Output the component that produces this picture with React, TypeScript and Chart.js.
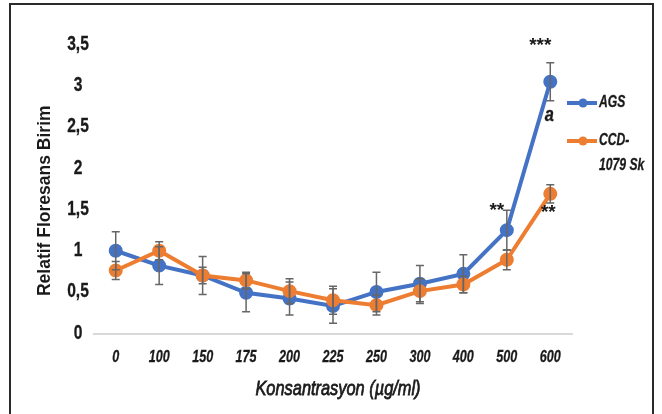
import React, { useEffect, useRef } from "react";
import { Chart, registerables } from "chart.js";

Chart.register(...registerables);

// ---- data ----
const categories = ["0", "100", "150", "175", "200", "225", "250", "300", "400", "500", "600"];
const agsValues = [1.01, 0.83, 0.71, 0.5, 0.43, 0.34, 0.51, 0.61, 0.73, 1.26, 3.06];
const agsErrors = [0.23, 0.23, 0.23, 0.23, 0.2, 0.21, 0.24, 0.22, 0.23, 0.24, 0.23];
const ccdValues = [0.77, 1.01, 0.71, 0.65, 0.52, 0.41, 0.35, 0.52, 0.6, 0.9, 1.7];
const ccdErrors = [0.11, 0.11, 0.1, 0.1, 0.15, 0.17, 0.12, 0.15, 0.1, 0.12, 0.11];
const seriesNames = [["AGS"], ["CCD-", "1079 Sk"]];
const yMin = 0;
const yMax = 3.5;
const yStep = 0.5;
const xTitle = "Konsantrasyon (µg/ml)";
const yTitle = "Relatif Floresans Birim";
// significance marks: series index, category index, text
const marks = [
  { series: 0, index: 10, text: "***", where: "aboveErr", dx: -10, dy: -17 },
  { series: 0, index: 10, text: "a", where: "belowErr", dx: -1, dy: 15 },
  { series: 0, index: 9, text: "**", where: "aboveErr", dx: -10, dy: 0 },
  { series: 1, index: 10, text: "**", where: "point", dx: -2, dy: 19 },
];

const BLUE = "#4472C4";
const ORANGE = "#ED7D31";
const TEXT = "#1a1a1a";
const SANS = "'Liberation Sans', Arial, 'DejaVu Sans', sans-serif";

function narrowText(ctx: any, text: string, x: number, y: number, font: string, align: string, sx: number, stroke = 0) {
  ctx.save();
  ctx.translate(x, y);
  ctx.scale(sx, 1);
  ctx.font = font;
  ctx.textAlign = align;
  ctx.textBaseline = "middle";
  ctx.fillStyle = TEXT;
  ctx.fillText(text, 0, 0);
  if (stroke > 0) {
    ctx.strokeStyle = TEXT;
    ctx.lineWidth = stroke;
    ctx.strokeText(text, 0, 0);
  }
  ctx.restore();
}

const axisTextPlugin = {
  id: "axisText",
  afterDraw(chart: any) {
    const ctx = chart.ctx;
    const xs = chart.scales.x;
    const ys = chart.scales.y;
    const area = chart.chartArea;
    // y ticks
    ys.ticks.forEach((t: any) => {
      const label = String(t.value).replace(".", ",");
      narrowText(ctx, label, area.left - 16, ys.getPixelForValue(t.value) - 1, "bold 20px " + SANS, "center", 0.78, 0.3);
    });
    // x ticks
    xs.ticks.forEach((t: any, i: number) => {
      const label = xs.getLabelForValue(t.value);
      narrowText(ctx, label, xs.getPixelForTick(i), area.bottom + 23, "italic bold 17px " + SANS, "center", 0.74, 0.3);
    });
    // x title
    narrowText(ctx, xTitle, (area.left + area.right) / 2 + 5, area.bottom + 55, "italic 21px " + SANS, "center", 0.78, 0.8);
    // y title
    ctx.save();
    ctx.translate(45, (area.top + area.bottom) / 2 + 11);
    ctx.rotate(-Math.PI / 2);
    ctx.font = "bold 17.5px " + SANS;
    ctx.textAlign = "center";
    ctx.textBaseline = "middle";
    ctx.fillStyle = TEXT;
    ctx.fillText(yTitle, 0, 0);
    ctx.restore();
  },
};

const errorBarPlugin = {
  id: "errorBars",
  afterDatasetsDraw(chart: any) {
    const ctx = chart.ctx;
    const y = chart.scales.y;
    const errs = [agsErrors, ccdErrors];
    ctx.save();
    ctx.strokeStyle = "#666666";
    ctx.lineWidth = 1.5;
    chart.data.datasets.forEach((ds: any, di: number) => {
      const meta = chart.getDatasetMeta(di);
      meta.data.forEach((pt: any, i: number) => {
        const v = ds.data[i];
        const e = errs[di][i];
        const x = pt.x;
        const yt = y.getPixelForValue(v + e);
        const yb = y.getPixelForValue(v - e);
        ctx.beginPath();
        ctx.moveTo(x, yt);
        ctx.lineTo(x, yb);
        ctx.moveTo(x - 4, yt);
        ctx.lineTo(x + 4, yt);
        ctx.moveTo(x - 4, yb);
        ctx.lineTo(x + 4, yb);
        ctx.stroke();
      });
    });
    ctx.restore();
  },
};

const marksPlugin = {
  id: "marks",
  afterDatasetsDraw(chart: any) {
    const ctx = chart.ctx;
    const y = chart.scales.y;
    const errs = [agsErrors, ccdErrors];
    marks.forEach((m) => {
      const pt = chart.getDatasetMeta(m.series).data[m.index];
      const v = chart.data.datasets[m.series].data[m.index];
      const e = errs[m.series][m.index];
      let py = pt.y;
      if (m.where === "aboveErr") py = y.getPixelForValue(v + e);
      if (m.where === "belowErr") py = y.getPixelForValue(v - e);
      if (m.text === "a") {
        narrowText(ctx, m.text, pt.x + m.dx, py + m.dy, "italic bold 20px " + SANS, "center", 0.82, 0.3);
      } else {
        narrowText(ctx, m.text, pt.x + m.dx, py + m.dy, "bold 19px " + SANS, "center", 1);
      }
    });
  },
};

const legendPlugin = {
  id: "customLegend",
  afterDraw(chart: any) {
    const ctx = chart.ctx;
    const x0 = chart.chartArea.right - 5;
    const rows = [103, 141];
    chart.data.datasets.forEach((ds: any, di: number) => {
      const yy = rows[di];
      ctx.save();
      ctx.strokeStyle = ds.borderColor;
      ctx.lineWidth = 4;
      ctx.beginPath();
      ctx.moveTo(x0, yy);
      ctx.lineTo(x0 + 30, yy);
      ctx.stroke();
      ctx.fillStyle = ds.borderColor;
      ctx.beginPath();
      ctx.arc(x0 + 16, yy, 4.5, 0, Math.PI * 2);
      ctx.fill();
      ctx.restore();
      seriesNames[di].forEach((line, li) => {
        narrowText(ctx, line, x0 + 32, yy + li * 25, "italic bold 16px " + SANS, "left", 0.76, 0.3);
      });
    });
  },
};

export default function App() {
  const ref = useRef<HTMLCanvasElement | null>(null);
  useEffect(() => {
    if (!ref.current) return;
    const chart = new Chart(ref.current, {
      type: "line",
      data: {
        labels: categories,
        datasets: [
          {
            label: seriesNames[0].join(" "),
            data: agsValues,
            borderColor: BLUE,
            backgroundColor: BLUE,
            borderWidth: 4,
            pointRadius: 5,
            pointBackgroundColor: BLUE,
            pointBorderColor: BLUE,
            tension: 0,
            order: 1,
          },
          {
            label: seriesNames[1].join(" "),
            data: ccdValues,
            borderColor: ORANGE,
            backgroundColor: ORANGE,
            borderWidth: 4,
            pointRadius: 5,
            pointBackgroundColor: ORANGE,
            pointBorderColor: ORANGE,
            tension: 0,
            order: 0,
          },
        ],
      },
      options: {
        responsive: false,
        animation: false,
        events: [],
        layout: { padding: { left: 28, right: 90, top: 45.5, bottom: 0 } },
        plugins: { legend: { display: false }, tooltip: { enabled: false } },
        scales: {
          x: {
            type: "category",
            offset: true,
            grid: { display: false, drawTicks: false },
            border: { display: true, color: "#d9d9d9", width: 2 },
            ticks: { display: false, autoSkip: false },
            afterFit(scale: any) {
              scale.height = 80;
            },
          },
          y: {
            min: yMin,
            max: yMax,
            grid: { display: false, drawTicks: false },
            border: { display: false },
            ticks: { display: false, stepSize: yStep },
            afterFit(scale: any) {
              scale.width = 66;
            },
          },
        },
      },
      plugins: [errorBarPlugin, marksPlugin, legendPlugin, axisTextPlugin],
    } as any);
    return () => chart.destroy();
  }, []);

  return (
    <div style={{ position: "fixed", left: 0, top: 0, width: 662, height: 414, overflow: "hidden", background: "#fff" }}>
      <canvas ref={ref} width={662} height={414} style={{ position: "absolute", left: 0, top: 0, width: 662, height: 414 }} />
      <div
        style={{
          position: "absolute",
          left: 9,
          top: 3,
          width: 645,
          height: 430,
          border: "2px solid #2a2a2a",
          boxSizing: "border-box",
          pointerEvents: "none",
        }}
      />
    </div>
  );
}
